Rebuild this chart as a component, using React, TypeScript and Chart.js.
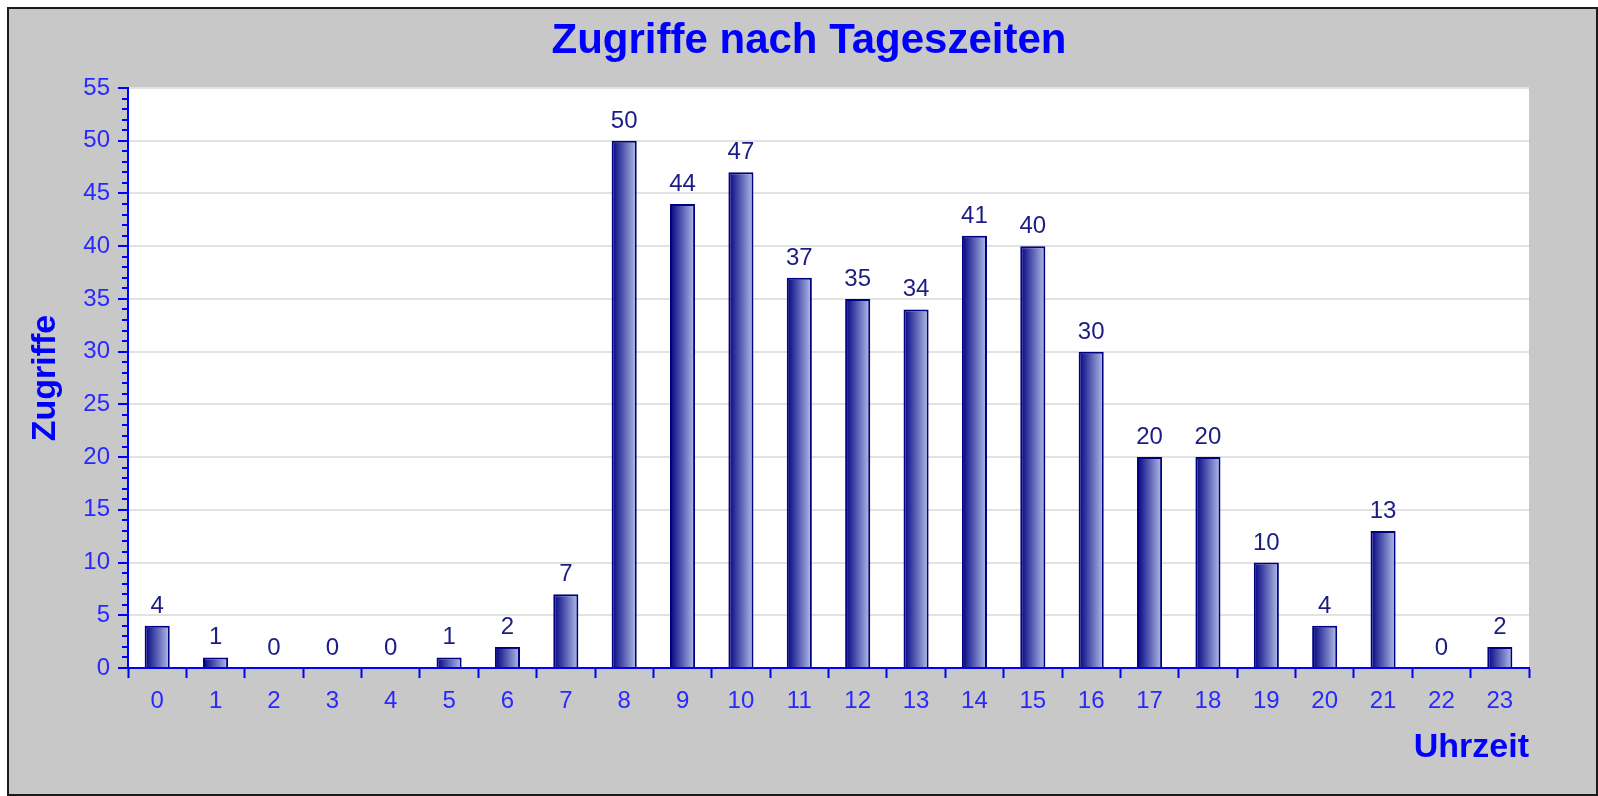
import React, { useEffect, useRef } from "react";
import { Chart, registerables } from "chart.js";

Chart.register(...registerables);

const chartTitle = "Zugriffe nach Tageszeiten";
const xTitle = "Uhrzeit";
const yTitle = "Zugriffe";
const hours = ["0","1","2","3","4","5","6","7","8","9","10","11","12","13","14","15","16","17","18","19","20","21","22","23"];
const hits = [4, 1, 0, 0, 0, 1, 2, 7, 50, 44, 47, 37, 35, 34, 41, 40, 30, 20, 20, 10, 4, 13, 0, 2];
const yMin = 0;
const yMax = 55;
const yMajorStep = 5;
const yMinorStep = 1;

const FONT = "'Liberation Sans', Arial, sans-serif";
const BLUE = "#0000ff";
const TICK_BLUE = "#2828ff";
const NAVY = "#000080";
const LABEL_NAVY = "#1c1c84";
const BAR_PCT = 0.43;

const framePlugin = {
  id: "frame",
  beforeDraw(chart: any) {
    const { ctx, width, height, chartArea } = chart;
    ctx.save();
    ctx.fillStyle = "#ffffff";
    ctx.fillRect(0, 0, width, height);
    ctx.fillStyle = "#1a1a1a";
    ctx.fillRect(7, 7, width - 7, height - 7);
    ctx.fillStyle = "#c8c8c8";
    ctx.fillRect(9, 9, width - 11, height - 11);
    ctx.fillStyle = "#ffffff";
    ctx.fillRect(chartArea.left, chartArea.top, chartArea.right - chartArea.left, chartArea.bottom - chartArea.top);
    ctx.restore();
  },
};

const minorTickPlugin = {
  id: "minorTicks",
  afterDraw(chart: any) {
    const y = chart.scales.y;
    const { ctx } = chart;
    ctx.save();
    ctx.strokeStyle = BLUE;
    ctx.lineWidth = 2;
    for (let v = yMin; v <= yMax; v += yMinorStep) {
      if (v % yMajorStep === 0) continue;
      const py = Math.round(y.getPixelForValue(v));
      ctx.beginPath();
      ctx.moveTo(y.right - 6, py);
      ctx.lineTo(y.right, py);
      ctx.stroke();
    }
    ctx.restore();
  },
};

const valueLabelPlugin = {
  id: "valueLabels",
  afterDatasetsDraw(chart: any) {
    const { ctx } = chart;
    const meta = chart.getDatasetMeta(0);
    ctx.save();
    ctx.fillStyle = LABEL_NAVY;
    ctx.font = `24px ${FONT}`;
    ctx.textAlign = "center";
    ctx.textBaseline = "alphabetic";
    meta.data.forEach((bar: any, i: number) => {
      ctx.fillText(String(hits[i]), bar.x, bar.y - 13);
    });
    ctx.restore();
  },
};

export default function App() {
  const ref = useRef<HTMLCanvasElement | null>(null);

  useEffect(() => {
    if (!ref.current) return;
    const chart = new Chart(ref.current, {
      type: "bar",
      data: {
        labels: hours,
        datasets: [
          {
            data: hits,
            borderColor: NAVY,
            borderWidth: 2,
            barPercentage: BAR_PCT,
            categoryPercentage: 1,
            backgroundColor: (c: any) => {
              const chartObj = c.chart;
              const xs = chartObj.scales && chartObj.scales.x;
              if (!xs || c.dataIndex === undefined) return NAVY;
              const cx = xs.getPixelForValue(c.dataIndex);
              const w = (xs.width / hours.length) * BAR_PCT;
              if (!Number.isFinite(cx) || !Number.isFinite(w) || w <= 0) return NAVY;
              const g = chartObj.ctx.createLinearGradient(cx - w / 2, 0, cx + w / 2, 0);
              g.addColorStop(0, "#000080");
              g.addColorStop(1, "#b4c0e8");
              return g;
            },
          },
        ],
      },
      options: {
        responsive: false,
        animation: false,
        devicePixelRatio: 1,
        layout: { padding: { left: 20, right: 0, top: 0, bottom: 0 } },
        plugins: {
          legend: { display: false },
          tooltip: { enabled: false },
          title: {
            display: true,
            text: chartTitle,
            color: BLUE,
            font: { family: FONT, size: 42, weight: "bold", lineHeight: 1.2 },
            padding: { top: 16, bottom: 21.6 },
          },
        },
        scales: {
          x: {
            offset: true,
            grid: {
              offset: true,
              drawOnChartArea: false,
              tickLength: 10,
              tickColor: BLUE,
              tickWidth: 2,
              color: BLUE,
            },
            border: { color: BLUE, width: 2 },
            ticks: { color: TICK_BLUE, font: { family: FONT, size: 24 }, padding: 9, maxRotation: 0 },
            title: {
              display: true,
              text: xTitle,
              align: "end",
              color: BLUE,
              font: { family: FONT, size: 34, weight: "bold", lineHeight: 1.2 },
              padding: { top: 0, bottom: 28 },
            },
            afterFit: (s: any) => {
              s.height = 128;
            },
          },
          y: {
            min: yMin,
            max: yMax,
            ticks: {
              stepSize: yMinorStep,
              autoSkip: false,
              color: TICK_BLUE,
              font: { family: FONT, size: 24 },
              padding: 8,
              callback: (v: any) => (Number(v) % yMajorStep === 0 ? String(v) : ""),
            },
            grid: {
              color: (c: any) =>
                c.tick && c.tick.value % yMajorStep === 0 && c.tick.value !== yMin ? "#e2e2e2" : "rgba(0,0,0,0)",
              lineWidth: 2,
              tickLength: 10,
              tickWidth: 2,
              tickColor: (c: any) => (c.tick && c.tick.value % yMajorStep === 0 ? BLUE : "rgba(0,0,0,0)"),
            },
            border: { color: BLUE, width: 2 },
            title: {
              display: true,
              text: yTitle,
              color: BLUE,
              font: { family: FONT, size: 34, weight: "bold", lineHeight: 1.2 },
              padding: { top: 5, bottom: 0 },
            },
            afterFit: (s: any) => {
              s.width = 108;
            },
          },
          y2: {
            type: "linear",
            position: "right",
            display: true,
            grid: { display: false, drawTicks: false },
            ticks: { display: false },
            border: { display: false },
            afterFit: (s: any) => {
              s.width = 69;
            },
          },
        },
      } as any,
      plugins: [framePlugin, minorTickPlugin, valueLabelPlugin],
    });
    return () => chart.destroy();
  }, []);

  return (
    <div style={{ position: "fixed", left: 0, top: 0, width: 1598, height: 796 }}>
      <canvas ref={ref} width={1598} height={796} style={{ display: "block" }} />
    </div>
  );
}
